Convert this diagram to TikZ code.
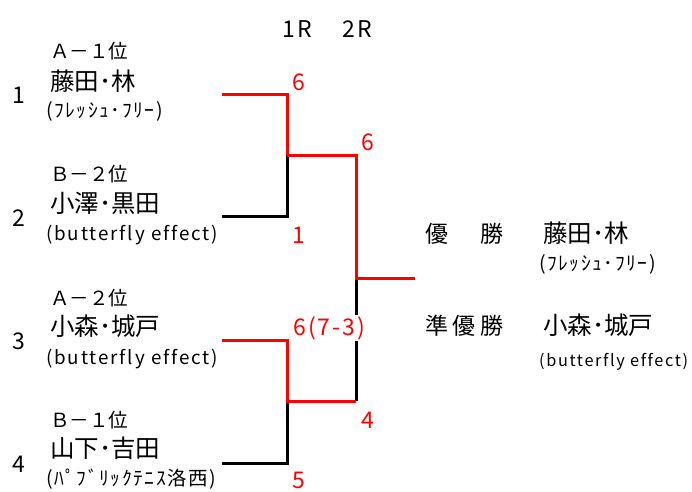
\documentclass[tikz,border=0pt]{standalone}
\usepackage{fontspec}
\setmainfont{Noto Sans CJK JP}
\newfontfamily\jp{Noto Sans CJK JP}
\newfontfamily\lat{Noto Sans CJK JP}[LetterSpace=9]
\newfontfamily\latw{Noto Sans CJK JP}[LetterSpace=10,Ligatures=CommonOff]
\newfontfamily\kat{Noto Sans CJK JP}[LetterSpace=8]
\newfontfamily\jpls{Noto Sans CJK JP}[LetterSpace=20]
\begin{document}
\begin{tikzpicture}[x=1pt,y=-1pt,
  txt/.style={inner sep=0pt,anchor=base west},
  rank/.style={txt,font=\jp\fontsize{19.5}{20}\selectfont},
  pname/.style={txt,font=\jp\fontsize{24.5}{26}\selectfont},
  team/.style={txt,font=\kat\fontsize{19.5}{20}\selectfont},
  bfly/.style={txt,font=\latw\fontsize{18.8}{20}\selectfont},
  seed/.style={txt,font=\jp\fontsize{23}{24}\selectfont},
  score/.style={txt,text=red,font=\lat\fontsize{23}{24}\selectfont},
  round/.style={txt,font=\lat\fontsize{23}{24}\selectfont},
  result/.style={txt,font=\jpls\fontsize{23}{24}\selectfont},
  rl/.style={draw=red,line width=3pt},
  bl/.style={draw=black,line width=3pt}]
\useasboundingbox (0,0) rectangle (692,491);
% round labels
\node[round] (r1) at (282,37) {1R};
\node[round] (r2) at (342,37) {2R};
% entries
\node[seed] (n1) at (12,103) {1};
\node[rank] (a1) at (50,58) {Ａ－１位};
\node[pname] (p1) at (50,90) {藤田･林};
\node[team] (t1) at (46,117) {(ﾌﾚｯｼｭ･ﾌﾘｰ)};
\node[seed] (n2) at (12,226) {2};
\node[rank] (a2) at (50,181) {Ｂ－２位};
\node[pname] (p2) at (50,212) {小澤･黒田};
\node[bfly] (t2) at (46,240) {(butterfly effect)};
\node[seed] (n3) at (12,349) {3};
\node[rank] (a3) at (50,305) {Ａ－２位};
\node[pname] (p3) at (50,335) {小森･城戸};
\node[bfly] (t3) at (46,364) {(butterfly effect)};
\node[seed] (n4) at (12,472) {4};
\node[rank] (a4) at (50,427) {Ｂ－１位};
\node[pname] (p4) at (50,457) {山下･吉田};
\node[team] (t4) at (46,485) {(ﾊﾟﾌﾞﾘｯｸﾃﾆｽ洛西)};
% bracket
\coordinate (e1) at (222,94);
\coordinate (j1) at (287,94);
\coordinate (m1) at (287,155);
\coordinate (e2) at (222,216);
\coordinate (j2) at (287,216);
\coordinate (m1r) at (356,155);
\coordinate (f) at (356,278);
\coordinate (fr) at (415,278);
\coordinate (e3) at (222,340);
\coordinate (j3) at (287,340);
\coordinate (m2) at (287,401);
\coordinate (e4) at (222,463);
\coordinate (j4) at (287,463);
\coordinate (m2r) at (356,401);
\draw[bl] (e2) -- (j2) -- (m1);
\draw[bl] (e4) -- (j4) -- (m2);
\draw[bl] (m2r) -- (f);
\draw[rl] (e1) -- (j1) -- (m1);
\draw[rl] (m1) -- (m1r) -- (f) -- (fr);
\draw[rl] (e3) -- (j3) -- (m2) -- (m2r);
% scores
\node[score] (s1) at (292,90) {6};
\node[score] (s2) at (292,243) {1};
\node[score] (s3) at (361,150) {6};
\node[score,fill=white,inner sep=1pt] (s4) at (292,335) {6(7-3)};
\node[score] (s5) at (361,428) {4};
\node[score] (s6) at (292,488) {5};
% results
\node[result] (w) at (425,242) {優　勝};
\node[pname] (wn) at (543,242) {藤田･林};
\node[team] (wt) at (539,270) {(ﾌﾚｯｼｭ･ﾌﾘｰ)};
\node[result] (ru) at (425,334) {準優勝};
\node[pname] (rn) at (543,334) {小森･城戸};
\node[bfly,font=\latw\fontsize{16.3}{18}\selectfont] (rt) at (539,366) {(butterfly effect)};
\end{tikzpicture}
\end{document}
